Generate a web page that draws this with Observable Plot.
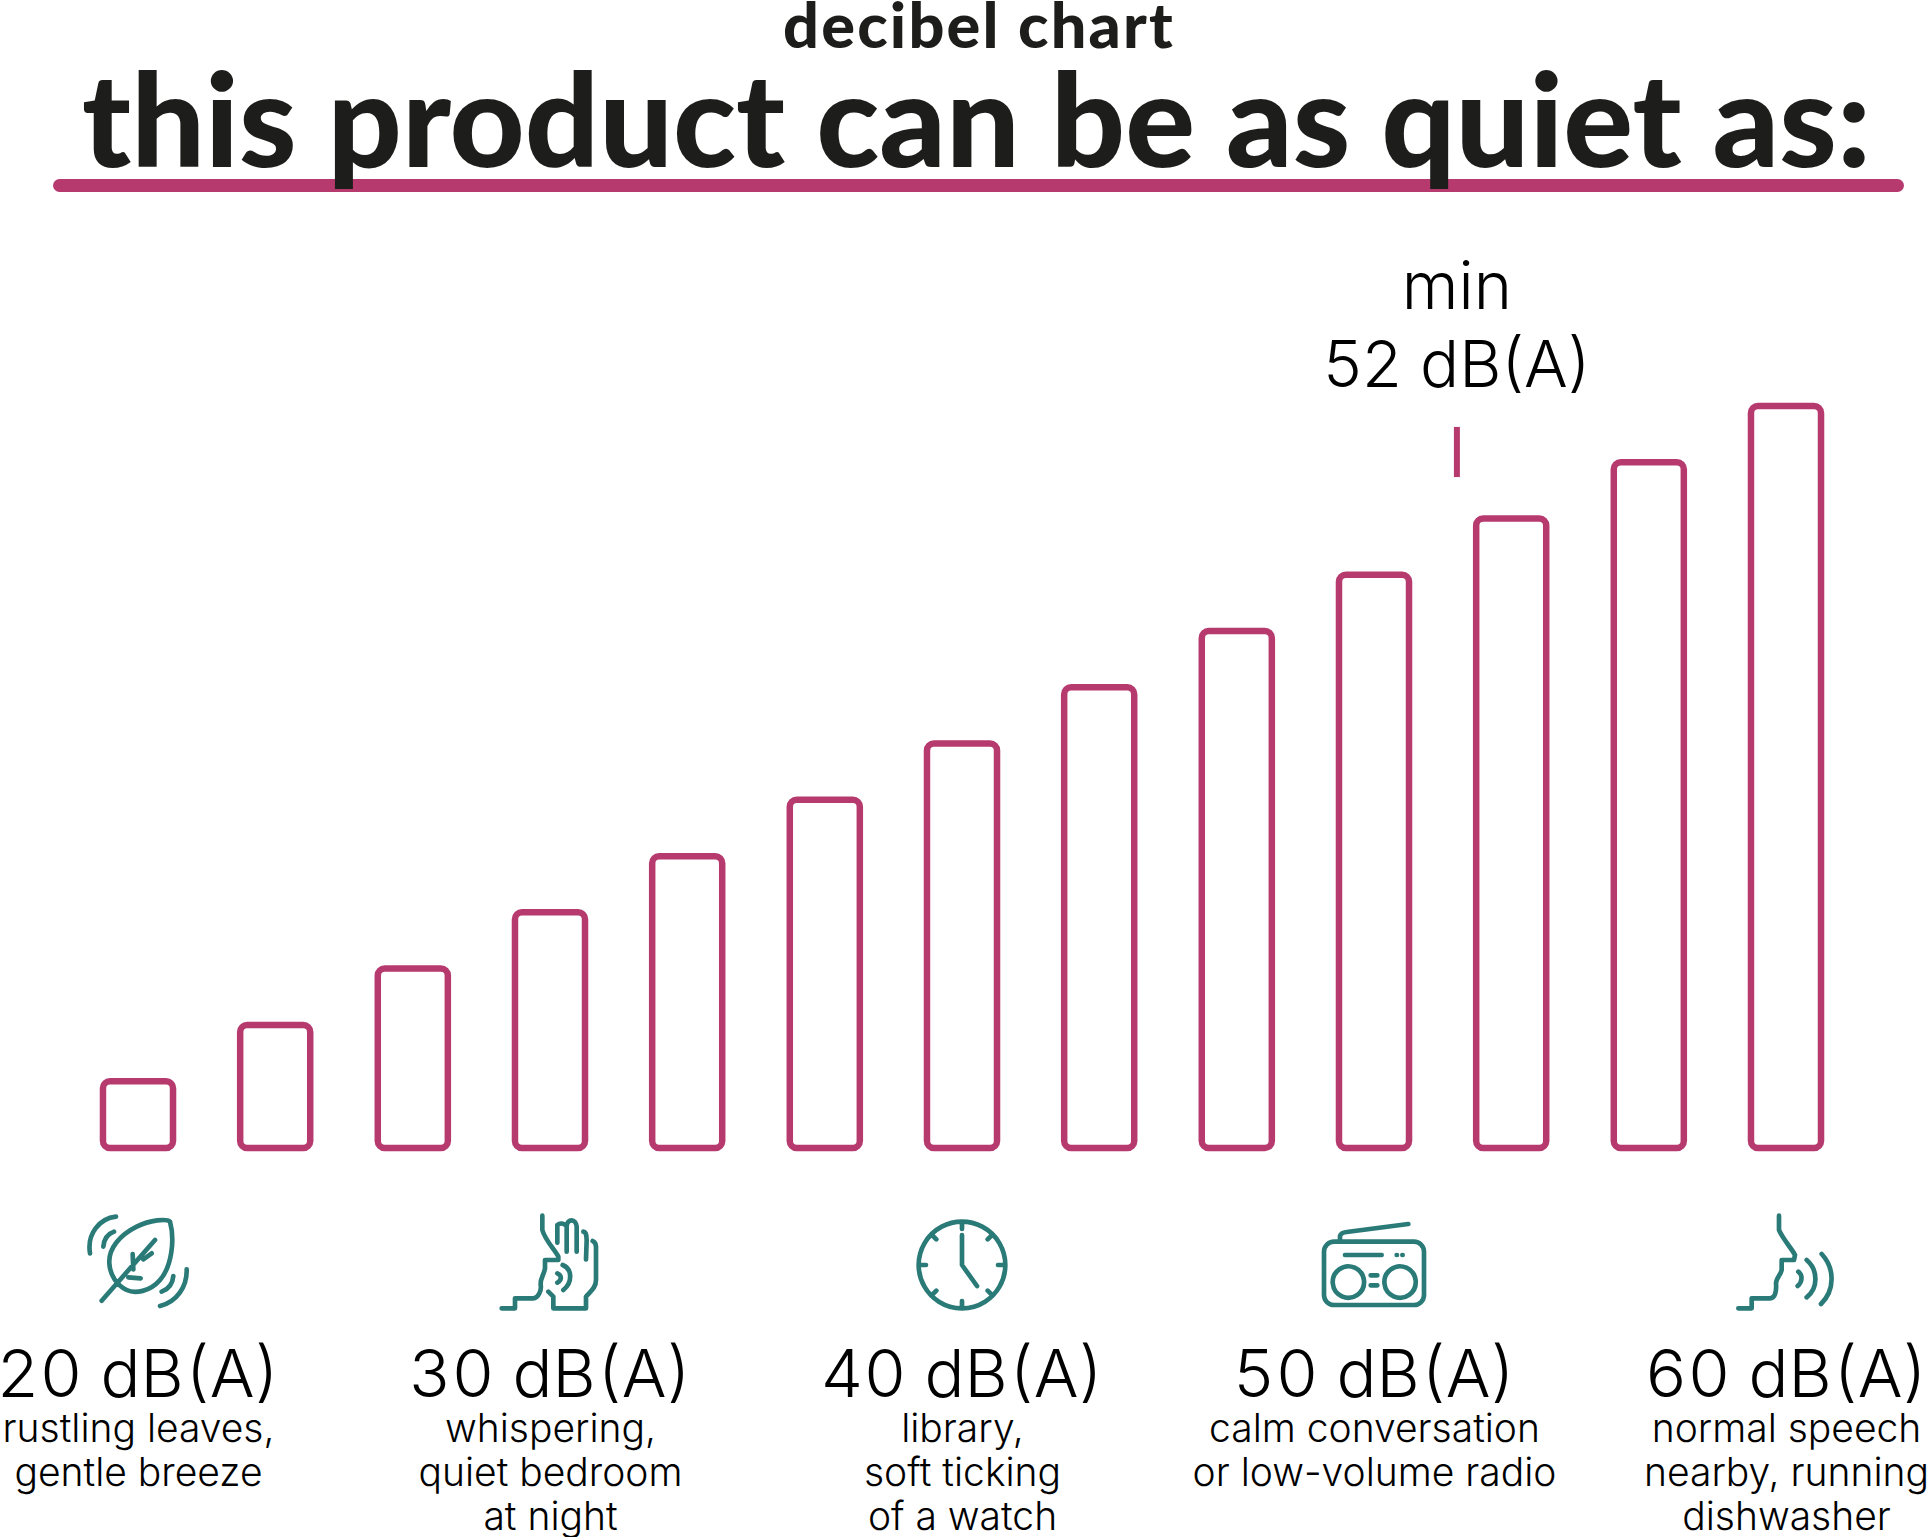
<!DOCTYPE html>
<html><head><meta charset="utf-8">
<script src="https://cdn.jsdelivr.net/npm/d3@7"></script>
<script src="https://cdn.jsdelivr.net/npm/@observablehq/plot@0.6"></script>
<style>
html,body{margin:0;padding:0;background:#fff}
#head{position:relative;width:1930px;height:200px}
#sub{position:absolute;left:0;width:1930px;margin-left:14px;text-align:center;top:0;font:900 63px/48px Lato,sans-serif;letter-spacing:2.2px;color:#1d1d1b}
#rule{position:absolute;left:53px;width:1851px;top:179px;height:13px;border-radius:7px;background:#b73a6f}
#title{position:absolute;left:82px;top:39px;white-space:nowrap;font:900 130.3px/156px Lato,sans-serif;color:#1d1d1b}
#chart svg{display:block;overflow:visible}
</style></head><body>
<div id="head">
<div id="rule"></div>
<div id="sub">decibel chart</div>
<div id="title">this product can be as quiet as:</div>
</div>
<div id="chart"></div>
<script>
const barLevels=[20,23.33,26.67,30,33.33,36.67,40,43.33,46.67,50,53.33,56.67,60];
const labelLevels=[20,30,40,50,60];
const labelDescriptions=[
"rustling leaves,\ngentle breeze",
"whispering,\nquiet bedroom\nat night",
"library,\nsoft ticking\nof a watch",
"calm conversation\nor low-volume radio",
"normal speech\nnearby, running\ndishwasher"];
const minLevel=52;
const minLabel="min\n52 dB(A)";
const PINK="#b73a6f",TEAL="#2a7a78",FONT="Inter, sans-serif";
const leaf="M60,190C50,130 90,85 138,80M100,170Q103,135 132,125M300,95C290,85 240,90 200,110C150,135 115,175 118,220C120,255 140,285 170,300C195,312 240,305 270,270C305,230 315,150 300,95ZM95,332L255,150M188,192L190,238M175,262L212,265M220,208L245,190M350,238C352,290 320,335 270,348M310,258C308,280 295,298 275,305";
const hand="M187,47L187,90C195,120 225,150 235,170L235,180L195,180L195,205C192,225 180,235 182,255C185,270 175,295 160,295L105,295L105,325L65,325M205,275L220,290L220,325L318,325L318,290C330,275 348,265 348,240L348,140C348,130 342,125 338,123M232,128L232,75C240,68 252,70 260,78L260,155M260,78C262,55 288,55 290,80L290,155M310,95C318,95 320,110 320,120L318,178M232,220C246,226 246,240 232,248M248,195C275,205 280,245 250,270";
const clock="M210,65A130,130 0 1 1 209.9,65ZM210,65L210,87M210,325L210,303M80,195L102,195M340,195L318,195M118,103L133,118M302,103L287,118M118,287L133,272M302,287L287,272M210,105L210,195L255,258";
const radio="M102,125L342,125A30,30 0 0 1 372,155L372,285A30,30 0 0 1 342,315L102,315A30,30 0 0 1 72,285L72,155A30,30 0 0 1 102,125ZM120,125L120,108C122,100 130,97 140,96L325,72M135,165L245,165M212,226L232,226M212,256L232,256M192,242A47,47 0 1 1 191.9,241ZM347,242A47,47 0 1 1 346.9,241ZM290,165L291,165M307,165L308,165";
const speaker="M177,47L177,90C190,120 215,145 225,165L222,180L185,180L185,210C182,225 168,235 168,250C170,275 165,295 150,295L95,295L95,325L55,325M235,215C248,225 248,245 233,258M260,180C295,210 295,265 260,292M305,162C345,205 345,270 303,312";
const iconPaths=[leaf,hand,clock,radio,speaker];
const iconAnchorU=[204,210,210,222,198];
const iconTop=[42,52,52,52,52];
const bars=barLevels.map(db=>({db}));
const labels=labelLevels.map((db,i)=>({db,text:labelDescriptions[i]}));
const chart=Plot.plot({
  width:1930,height:1337,
  marginLeft:138,marginRight:144,marginTop:206,marginBottom:389,
  style:{fontFamily:FONT,background:"transparent",overflow:"visible"},
  x:{domain:[20,60],axis:null},
  y:{domain:[16.04,60],axis:null},
  marks:[
    Plot.rect(bars,{x1:d=>d.db-0.85,x2:d=>d.db+0.85,y1:16.04,y2:"db",fill:"none",stroke:PINK,strokeWidth:6.5,rx:7}),
    Plot.ruleX([minLevel],{y1:55.79,y2:58.76,stroke:PINK,strokeWidth:6}),
    Plot.text([minLabel],{x:minLevel,frameAnchor:"top",dy:-153,lineAnchor:"top",lineHeight:1.2,fontSize:65,fontWeight:300,fill:"#000"}),
    Plot.axisX({anchor:"bottom",label:null,ticks:labelLevels,tickSize:0,tickPadding:201,tickFormat:d=>`${d} dB(A)`,fontSize:66.5,fontWeight:300,fill:"#000",lineAnchor:"top"}),
    Plot.text(labels,{x:"db",text:"text",frameAnchor:"bottom",lineAnchor:"top",dy:262,lineHeight:1.128,fontSize:39,fontWeight:300,fill:"#000"}),
    (index,scales,values,dims)=>{
      const g=d3.create("svg:g").attr("fill","none").attr("stroke",TEAL).attr("stroke-width",14).attr("stroke-linecap","round").attr("stroke-linejoin","round");
      iconPaths.forEach((p,i)=>{
        const px=scales.x(labelLevels[i])-iconAnchorU[i]/3, py=dims.height-dims.marginBottom+iconTop[i];
        g.append("path").attr("d",p).attr("transform",`translate(${px},${py}) scale(${1/3})`);
      });
      return g.node();
    }
  ]
});
document.getElementById("chart").append(chart);
</script>
</body></html>
